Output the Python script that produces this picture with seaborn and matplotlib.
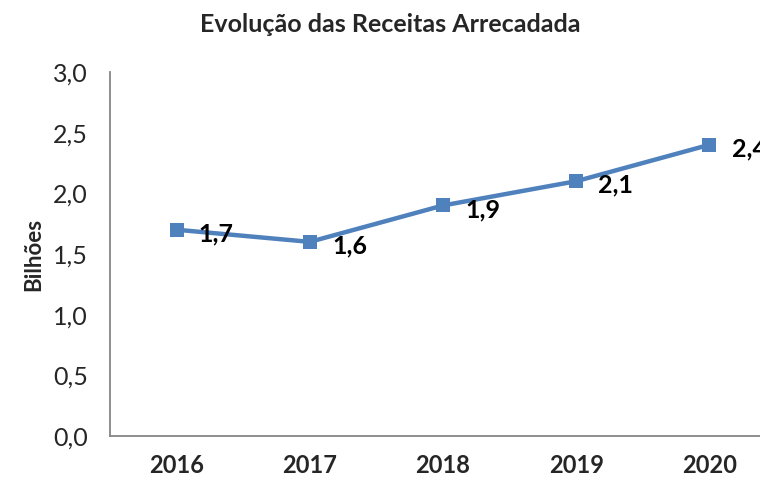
import pandas as pd
import matplotlib
matplotlib.use('Agg')
import matplotlib.pyplot as plt
import seaborn as sns

# Dados do gráfico
anos = ['2016', '2017', '2018', '2019', '2020']
receitas = [1.7, 1.6, 1.9, 2.1, 2.4]
y_ticks = [0.0, 0.5, 1.0, 1.5, 2.0, 2.5, 3.0]

df = pd.DataFrame({'ano': anos, 'receita': receitas})

sns.set_style('white')
plt.rcParams['font.family'] = ['Lato', 'DejaVu Sans']

fig = plt.figure(figsize=(7.6, 4.8), dpi=100)
ax = fig.add_axes([110 / 760, 44 / 480, 666 / 760, 364 / 480])

sns.lineplot(data=df, x='ano', y='receita', ax=ax, color='#4F81BD',
             linewidth=3.2, marker='s', markersize=10, markeredgewidth=0,
             clip_on=False)

# rótulos dos valores
for i, v in enumerate(receitas):
    ax.annotate(f'{v:.1f}'.replace('.', ','), (i, v), xytext=(16, -3),
                textcoords='offset points', ha='left', va='center',
                fontsize=18, fontweight='bold', color='black',
                annotation_clip=False)

ax.set_xlim(-0.5, 4.5)
ax.set_ylim(0, 3.0)
ax.set_yticks(y_ticks)
ax.set_yticklabels([f'{t:.1f}'.replace('.', ',') for t in y_ticks], fontsize=18)
ax.set_xticks(range(len(anos)))
ax.set_xticklabels(anos, fontsize=17, fontweight='bold')
ax.tick_params(axis='both', length=0)
ax.tick_params(axis='y', pad=16)
ax.tick_params(axis='x', pad=13)

ax.set_xlabel('')
ax.set_ylabel('Bilhões', fontsize=16, fontweight='bold', labelpad=6)

for side in ['top', 'right']:
    ax.spines[side].set_visible(False)
for side in ['left', 'bottom']:
    ax.spines[side].set_color('#868686')
    ax.spines[side].set_linewidth(1.3)

fig.text(390 / 760, 1 - 24 / 480, 'Evolução das Receitas Arrecadada',
         ha='center', va='center', fontsize=18, fontweight='bold')

fig.savefig('out.png', dpi=100)
plt.close()
